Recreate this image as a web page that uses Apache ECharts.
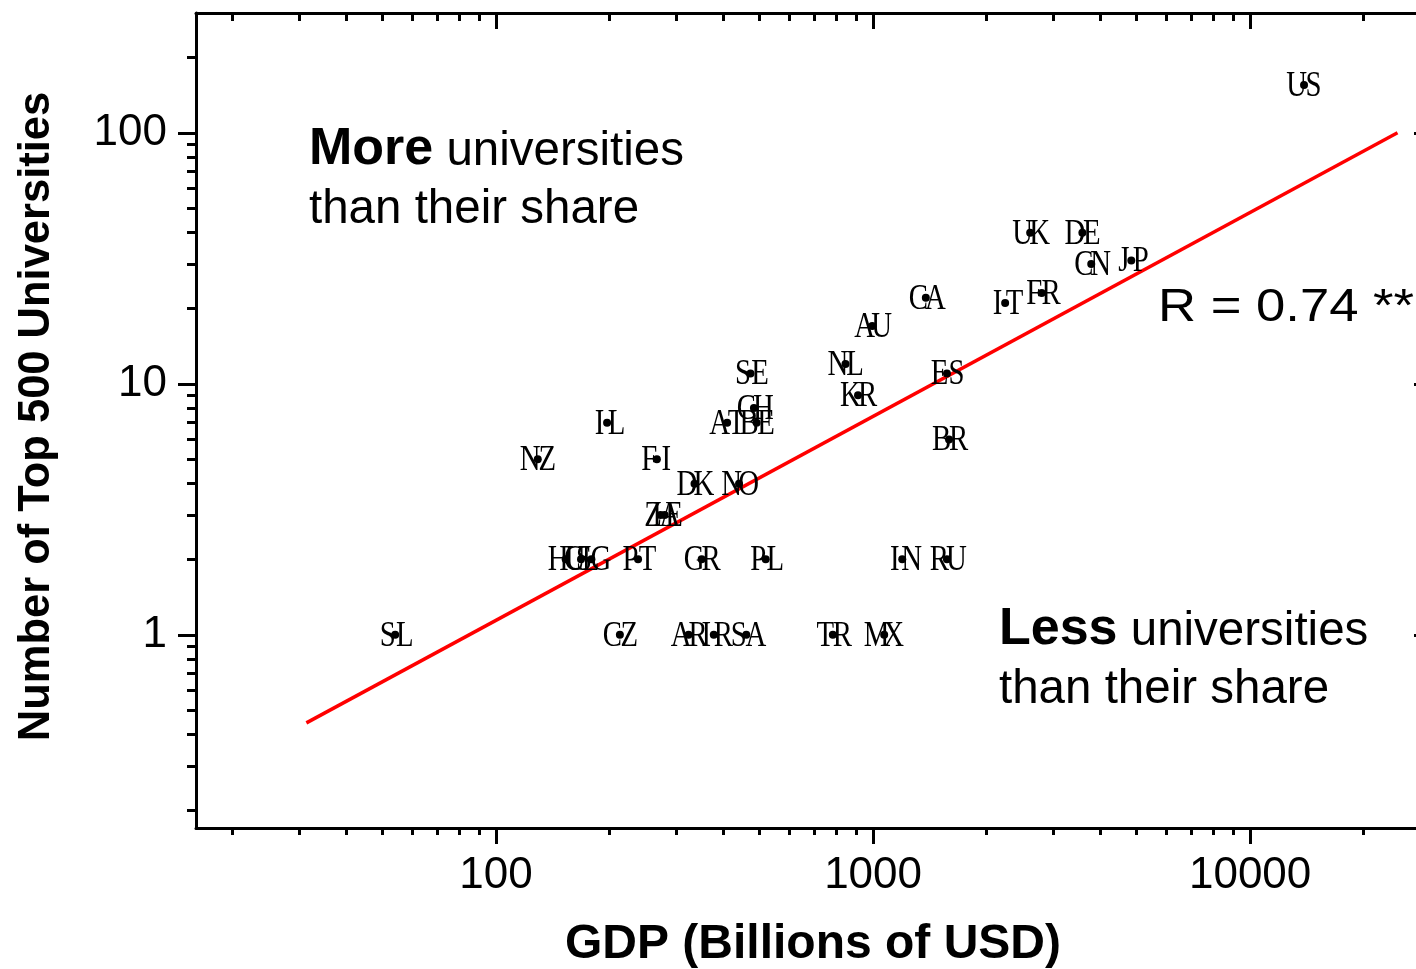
<!DOCTYPE html>
<html>
<head>
<meta charset="utf-8">
<script src="https://cdn.jsdelivr.net/npm/echarts@6/dist/echarts.min.js"></script>
<style>
html,body{margin:0;padding:0;background:#fff;}
#chart{width:1416px;height:969px;}
</style>
</head>
<body>
<div id="chart"></div>
<script>
// ---- data ----
const countries = ['US','JP','CN','DE','UK','FR','IT','CA','ES','BR','RU','IN','AU','MX','KR','NL','TR','SE','CH','BE','AT','IL','NO','DK','FI','ZA','IE','GR','PL','PT','CZ','AR','IR','SA','NZ','HU','CL','SG','SL'];
const gdpBillions = [13900,4840,3790,3590,2610,2800,2240,1380,1570,1590,1570,1195,995,1070,912,845,782,473,483,491,410,197,441,336,267,273,280,351,519,238,213,324,378,461,129,153,168,179,54];
const top500Count = [155,31,30,40,40,23,21,22,11,6,2,2,17,1,9,12,1,11,8,7,7,7,4,4,5,3,3,2,2,2,1,1,1,1,5,2,2,2,1];
const fitGdp = [31.4, 24600];
const fitCount = [0.446, 100];
const xMajorTicks = [100, 1000, 10000];
const xMinorTicks = [20,30,40,50,60,70,80,90,200,300,400,500,600,700,800,900,2000,3000,4000,5000,6000,7000,8000,9000,20000];
const yMajorTicks = [1, 10, 100];
const yMinorTicks = [0.2,0.3,0.4,0.5,0.6,0.7,0.8,0.9,2,3,4,5,6,7,8,9,20,30,40,50,60,70,80,90,200];
const xTitle = 'GDP (Billions of USD)';
const yTitle = 'Number of Top 500 Universities';
const rText = 'R = 0.74 **';

const X_MIN = 16, X_MAX = 30000, Y_MIN = 0.17, Y_MAX = 300;
const SANS = '"Liberation Sans", Arial, sans-serif';
const SERIF = '"Liberation Serif", "Times New Roman", serif';

function makeAxis(dim, position, ticks, len, inside, withLabel, withLine, extra) {
  const ax = {
    type: 'log', logBase: 10, gridIndex: 0, position: position,
    min: dim === 'x' ? X_MIN : Y_MIN, max: dim === 'x' ? X_MAX : Y_MAX,
    splitLine: {show: false}, minorTick: {show: false}, minorSplitLine: {show: false},
    axisLine: {show: withLine, onZero: false, lineStyle: {color: '#000', width: 3}},
    axisTick: {show: true, customValues: ticks, length: len, inside: inside, lineStyle: {color: '#000', width: 3}},
    axisLabel: withLabel ? {
      show: true, customValues: ticks, color: '#000', fontSize: 44, fontFamily: SANS,
      margin: dim === 'x' ? 26 : 29,
      formatter: function (v) { return String(Math.round(v * 1000) / 1000); }
    } : {show: false},
    axisPointer: {show: false}
  };
  return Object.assign(ax, extra || {});
}

const chart = echarts.init(document.getElementById('chart'), null, {renderer: 'canvas'});

const option = {
  animation: false,
  backgroundColor: '#fff',
  grid: {left: 196, top: 13, width: 1234, height: 815, outerBoundsMode: 'none', containLabel: false},
  xAxis: [
    makeAxis('x', 'bottom', xMajorTicks, 16, false, true, true, {
      name: xTitle, nameLocation: 'middle', nameGap: 93,
      nameTextStyle: {fontSize: 48, fontWeight: 'bold', fontFamily: SANS, color: '#000'}
    }),
    makeAxis('x', 'bottom', xMinorTicks, 7, false, false, false),
    makeAxis('x', 'top', xMajorTicks, 16, true, false, true),
    makeAxis('x', 'top', xMinorTicks, 8, true, false, false)
  ],
  yAxis: [
    makeAxis('y', 'left', yMajorTicks, 18, false, true, true, {
      name: yTitle, nameLocation: 'middle', nameGap: 137, nameRotate: 90,
      nameTextStyle: {fontSize: 43.5, fontWeight: 'bold', fontFamily: SANS, color: '#000', padding: [0, 0, 0, 8]}
    }),
    makeAxis('y', 'left', yMinorTicks, 9, false, false, false),
    makeAxis('y', 'right', yMajorTicks, 16, true, false, true),
    makeAxis('y', 'right', yMinorTicks, 8, true, false, false)
  ],
  series: [
    {
      type: 'line', xAxisIndex: 0, yAxisIndex: 0, silent: true,
      data: fitGdp.map(function (g, i) { return [g, fitCount[i]]; }),
      symbol: 'none', lineStyle: {color: '#ff0000', width: 3.5, opacity: 1}, z: 2
    },
    {
      type: 'custom', xAxisIndex: 0, yAxisIndex: 0, silent: true, z: 3,
      data: gdpBillions.map(function (g, i) { return [g, top500Count[i]]; }),
      renderItem: function (params, api) {
        const p = api.coord([api.value(0), api.value(1)]);
        const code = countries[params.dataIndex];
        const font = '36px ' + SERIF;
        return {
          type: 'group',
          children: [
            {type: 'text', x: p[0] - 7.5, y: p[1] + 1.5, scaleX: 0.8,
             style: {text: code.charAt(0), font: font, fill: '#000', align: 'center', verticalAlign: 'middle'}},
            {type: 'text', x: p[0] + 9.5, y: p[1] + 1.5, scaleX: 0.8,
             style: {text: code.slice(1), font: font, fill: '#000', align: 'center', verticalAlign: 'middle'}}
          ]
        };
      }
    },
    {
      type: 'scatter', xAxisIndex: 0, yAxisIndex: 0, silent: true, z: 4,
      data: gdpBillions.map(function (g, i) { return [g, top500Count[i]]; }),
      symbol: 'circle', symbolSize: 8,
      itemStyle: {color: '#000', opacity: 1, borderWidth: 0}
    }
  ],
  graphic: [
    {type: 'text', x: 309, y: 150, z: 10, silent: true, style: {
      text: '{b|More}{r| universities}', align: 'left', verticalAlign: 'middle', fill: '#000',
      rich: {b: {fontSize: 52, fontWeight: 'bold', fontFamily: SANS, fill: '#000', verticalAlign: 'bottom'},
             r: {fontSize: 47.5, fontFamily: SANS, fill: '#000', verticalAlign: 'bottom'}}}},
    {type: 'text', x: 309, y: 210, z: 10, silent: true, style: {
      text: 'than their share', font: '47.5px ' + SANS, fill: '#000', align: 'left', verticalAlign: 'middle'}},
    {type: 'text', x: 999, y: 630, z: 10, silent: true, style: {
      text: '{b|Less}{r| universities}', align: 'left', verticalAlign: 'middle', fill: '#000',
      rich: {b: {fontSize: 52, fontWeight: 'bold', fontFamily: SANS, fill: '#000', verticalAlign: 'bottom'},
             r: {fontSize: 47.5, fontFamily: SANS, fill: '#000', verticalAlign: 'bottom'}}}},
    {type: 'text', x: 999, y: 690, z: 10, silent: true, style: {
      text: 'than their share', font: '47.5px ' + SANS, fill: '#000', align: 'left', verticalAlign: 'middle'}},
    {type: 'text', x: 1158, y: 308, scaleX: 1.12, z: 10, silent: true, style: {
      text: rText, font: '47px ' + SANS, fill: '#000', align: 'left', verticalAlign: 'middle'}}
  ]
};
chart.setOption(option);
</script>
</body>
</html>
